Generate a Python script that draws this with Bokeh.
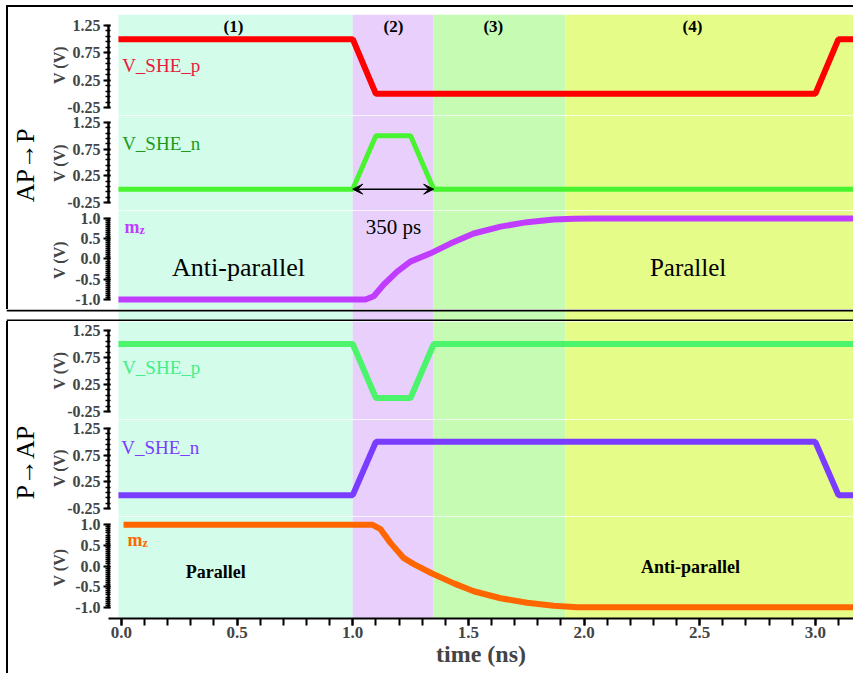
import math
from bokeh.plotting import figure
from bokeh.layouts import column, row
from bokeh.models import (Range1d, FixedTicker, NumeralTickFormatter, LinearAxis,
                          BoxAnnotation, Arrow, VeeHead, ColumnDataSource, Div)
from bokeh.core.properties import value
from bokeh.embed import file_html
from bokeh.resources import INLINE

SERIF = "Liberation Serif"

# ---------------- data ----------------
region_edges = [-0.013, 1.0, 1.35, 1.92, 3.3]
region_colors = ["#d3fcea", "#e9d0fc", "#c5fbb2", "#e6fc88"]
region_labels = ["(1)", "(2)", "(3)", "(4)"]
region_label_t = [0.484, 1.176, 1.608, 2.469]

# AP -> P
ap_vp_t = [-0.013, 1.0, 1.1, 3.0, 3.1, 3.2]
ap_vp_v = [1.0, 1.0, 0.0, 0.0, 1.0, 1.0]
ap_vn_t = [-0.013, 1.0, 1.1, 1.25, 1.35, 3.2]
ap_vn_v = [0.0, 0.0, 1.0, 1.0, 0.0, 0.0]
ap_mz_t = [-0.013, 1.055, 1.091, 1.134, 1.192, 1.249, 1.336, 1.422, 1.523,
           1.639, 1.754, 1.869, 1.956, 2.05, 3.2]
ap_mz_v = [-1.0, -1.0, -0.92, -0.63, -0.31, -0.065, 0.14, 0.38, 0.63,
           0.80, 0.91, 0.975, 0.995, 1.0, 1.0]

# P -> AP
p_vp_t = [-0.013, 1.0, 1.1, 1.25, 1.35, 3.2]
p_vp_v = [1.0, 1.0, 0.0, 0.0, 1.0, 1.0]
p_vn_t = [-0.013, 1.0, 1.1, 3.0, 3.1, 3.2]
p_vn_v = [0.0, 0.0, 1.0, 1.0, 0.0, 0.0]
p_mz_t = [0.009, 1.084, 1.12, 1.163, 1.221, 1.264, 1.343, 1.437, 1.523,
          1.639, 1.754, 1.869, 1.97, 2.05, 3.2]
p_mz_v = [1.0, 1.0, 0.89, 0.56, 0.19, 0.045, -0.18, -0.42, -0.61,
          -0.78, -0.89, -0.96, -0.995, -1.0, -1.0]

pulse_t = [1.0, 1.35]
pulse_text = "350 ps"

v_ticks = [-0.25, 0.25, 0.75, 1.25]
v_minor = [round(-0.25 + 0.1 * i, 2) for i in range(16)]
m_ticks = [-1.0, -0.5, 0.0, 0.5, 1.0]
m_minor = [round(-1.0 + 0.05 * i, 2) for i in range(41)]
x_ticks = [0.0, 0.5, 1.0, 1.5, 2.0, 2.5, 3.0]
x_minor = [round(0.1 * i, 1) for i in range(32)]

# ---------------- layout helpers ----------------
PAGE_W = 853
PAD_L = 6
INNER_W = PAGE_W - PAD_L          # 847
LEFT_W = 32
MAIN_W = INNER_W - 2 - LEFT_W     # 813
BORDER_L = 68
FRAME_W = MAIN_W - BORDER_L       # 745
X0, X1 = -0.056, 3.165
x_range = Range1d(X0, X1)


def bar(w, h, color="black"):
    return Div(text="", width=w, height=h, margin=(0, 0, 0, 0),
               styles={"background-color": color, "overflow": "hidden"})


def add_bands(p, bottom=None, top=None, level="underlay"):
    for i, c in enumerate(region_colors):
        p.add_layout(BoxAnnotation(left=region_edges[i], right=region_edges[i + 1],
                                   bottom=bottom, top=top,
                                   fill_color=c, fill_alpha=1.0, line_color=None,
                                   level=level))


def main_fig(height, yr, kind, top=0, bottom=0):
    p = figure(width=MAIN_W, height=height, x_range=x_range, y_range=Range1d(*yr),
               output_backend="svg", toolbar_location=None, title=None,
               min_border_left=BORDER_L, min_border_right=0, min_border_top=top,
               min_border_bottom=bottom, x_axis_location=None, y_axis_location=None,
               outline_line_color=None, background_fill_color="white",
               border_fill_color="white")
    p.xgrid.visible = False
    p.ygrid.visible = False
    add_bands(p)
    if kind == "v":
        ax = LinearAxis(bounds=(-0.25, 1.25),
                        ticker=FixedTicker(ticks=v_ticks, minor_ticks=v_minor),
                        formatter=NumeralTickFormatter(format="0.00"),
                        axis_label_standoff=-4)
    else:
        ax = LinearAxis(bounds=(-1.0, 1.0),
                        ticker=FixedTicker(ticks=m_ticks, minor_ticks=m_minor),
                        formatter=NumeralTickFormatter(format="0.0"),
                        axis_label_standoff=4)
    ax.axis_label = "V (V)"
    ax.axis_label_text_font = SERIF
    ax.axis_label_text_font_size = "16px"
    ax.axis_label_text_font_style = "bold"
    ax.major_label_text_font = SERIF
    ax.major_label_text_font_size = "16px"
    ax.major_label_text_font_style = "bold"
    ax.major_label_standoff = 3
    ax.axis_line_width = 2.5
    ax.major_tick_line_width = 2
    ax.minor_tick_line_width = 1.5
    ax.major_tick_out = 5
    ax.major_tick_in = 2
    ax.minor_tick_out = 3
    ax.minor_tick_in = 2
    p.add_layout(ax, "left")
    return p


def label(p, t, y, txt, color="black", size="19px", style="normal", align="left",
          baseline="alphabetic", xo=0, yo=0):
    p.text(x=[t], y=[y], text=[txt], text_color=color, text_font=value(SERIF),
           text_font_size=value(size), text_font_style=value(style),
           text_align=value(align), text_baseline=value(baseline),
           x_offset=xo, y_offset=yo)


def side_fig(height, txt, ypos):
    p = figure(width=LEFT_W, height=height, x_range=Range1d(0, 1), y_range=Range1d(0, 1),
               output_backend="svg", toolbar_location=None, title=None, min_border=0,
               x_axis_location=None, y_axis_location=None, outline_line_color=None,
               background_fill_color="white", border_fill_color="white")
    p.xgrid.visible = False
    p.ygrid.visible = False
    p.text(x=[0.53], y=[ypos], text=[txt], angle=math.pi / 2, text_font=value(SERIF),
           text_font_size=value("26px"), text_align=value("center"),
           text_baseline=value("middle"), text_color="black")
    return p


# ---------------- top panel: AP -> P ----------------
f1 = main_fig(108, (-0.3963, 1.4512), "v", top=7)
f1.line(ap_vp_t, ap_vp_v, line_color="#ff0000", line_width=6)
label(f1, 0.003, 0.518, "V_SHE_p", color="#ea1a3c")
src = ColumnDataSource(dict(x=region_label_t, y=[1.24] * 4, text=region_labels))
f1.text(x="x", y="y", text="text", source=src, text_font=value(SERIF),
        text_font_size=value("17px"), text_font_style=value("bold"),
        text_align=value("center"), text_baseline=value("middle"), text_color="black")

f2 = main_fig(95, (-0.40, 1.3813), "v")
f2.line(ap_vn_t, ap_vn_v, line_color="#48f430", line_width=5)
label(f2, 0.003, 0.862, "V_SHE_n", color="#1a9c1a")
f2.add_layout(Arrow(start=VeeHead(size=10, fill_color="black", line_color="black"),
                    end=VeeHead(size=10, fill_color="black", line_color="black"),
                    x_start=pulse_t[0], y_start=0.0, x_end=pulse_t[1], y_end=0.0,
                    line_color="black", line_width=1.5))

f3 = main_fig(99, (-1.247, 1.1975), "m")
f3.line(ap_mz_t, ap_mz_v, line_color="#c03cff", line_width=6)
label(f3, 0.013, 0.78, "m", color="#c03cff", size="18px", style="bold", baseline="middle")
label(f3, 0.013, 0.78, "z", color="#c03cff", size="12px", style="bold", baseline="middle",
      xo=15, yo=3)
label(f3, 1.176, 0.80, pulse_text, size="21px", align="center")
label(f3, 0.506, -0.21, "Anti-parallel", size="26px", align="center")
label(f3, 2.45, -0.20, "Parallel", size="25px", align="center")

# ---------------- bottom panel: P -> AP ----------------
f4 = main_fig(98, (-0.398, 1.4167), "v")
f4.line(p_vp_t, p_vp_v, line_color="#4cf46c", line_width=6)
label(f4, 0.003, 0.57, "V_SHE_p", color="#44ee88")

f5 = main_fig(97, (-0.40, 1.419), "v")
f5.line(p_vn_t, p_vn_v, line_color="#7a3cff", line_width=6)
label(f5, -0.001, 0.899, "V_SHE_n", color="#7a3cff")

f6 = main_fig(157, (-1.27, 1.198), "m", bottom=55)
f6.line(p_mz_t, p_mz_v, line_color="#ff6600", line_width=6)
label(f6, 0.026, 0.63, "m", color="#ff6600", size="18px", style="bold", baseline="middle")
label(f6, 0.026, 0.63, "z", color="#ff6600", size="12px", style="bold", baseline="middle",
      xo=15, yo=3)
label(f6, 0.408, -0.136, "Parallel", size="18px", style="bold", align="center")
label(f6, 2.46, -0.012, "Anti-parallel", size="18px", style="bold", align="center")

xa = LinearAxis(ticker=FixedTicker(ticks=x_ticks, minor_ticks=x_minor),
                formatter=NumeralTickFormatter(format="0.0"))
xa.axis_label = "time (ns)"
xa.axis_label_text_font = SERIF
xa.axis_label_text_font_size = "24px"
xa.axis_label_text_font_style = "bold"
xa.axis_label_standoff = 0
xa.major_label_text_font = SERIF
xa.major_label_text_font_size = "17px"
xa.major_label_text_font_style = "bold"
xa.major_label_standoff = 1
xa.axis_line_width = 2
xa.major_tick_line_width = 2
xa.minor_tick_line_width = 2
xa.major_tick_out = 7
xa.major_tick_in = 0
xa.minor_tick_out = 7
xa.minor_tick_in = 0
f6.add_layout(xa, "below")

# strip between the two boxes: the two box edges plus the bands running through
px_per_ns = FRAME_W / (X1 - X0)
gap_range = Range1d(X0 - (INNER_W - FRAME_W) / px_per_ns, X1)
gap = figure(width=INNER_W, height=12, x_range=gap_range, y_range=Range1d(0, 12),
             output_backend="svg", toolbar_location=None, title=None, min_border=0,
             x_axis_location=None, y_axis_location=None, outline_line_color=None,
             background_fill_color="white", border_fill_color="white")
gap.xgrid.visible = False
gap.ygrid.visible = False
add_bands(gap, bottom=1, top=11, level="annotation")
gap.add_layout(BoxAnnotation(bottom=10, top=12, fill_color="black", fill_alpha=1.0,
                             line_color=None))
gap.add_layout(BoxAnnotation(bottom=0, top=2, fill_color="black", fill_alpha=1.0,
                             line_color=None))

s1 = side_fig(302, "AP→P", 0.477)
s2 = side_fig(352, "P→AP", 0.599)

inner = column(
    bar(INNER_W, 5, "white"),
    bar(INNER_W, 2),
    row(bar(2, 302), s1, column(f1, f2, f3)),
    gap,
    row(bar(2, 352), s2, column(f4, f5, f6)),
)
layout = row(bar(PAD_L, 673, "white"), inner)

open("out.html", "w").write(file_html(layout, INLINE))
